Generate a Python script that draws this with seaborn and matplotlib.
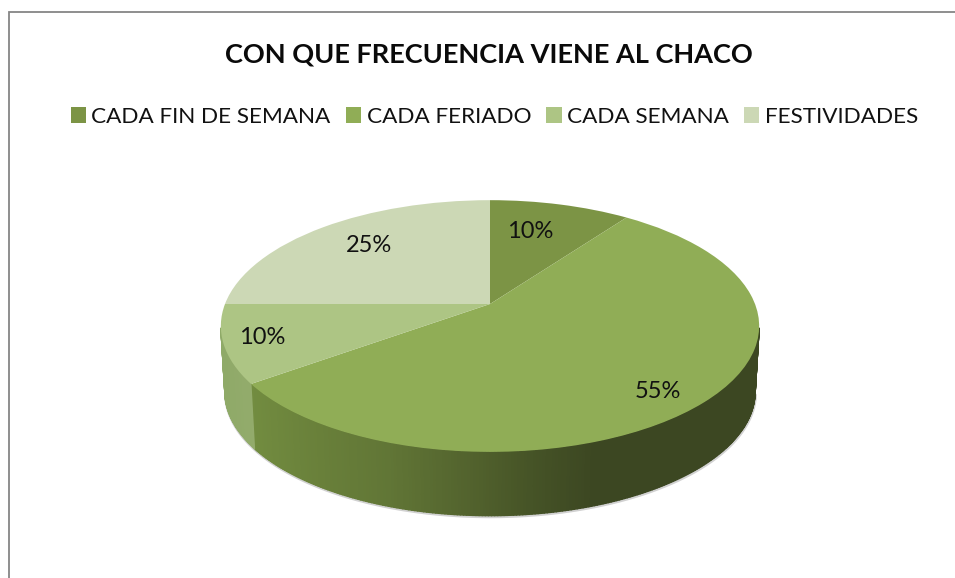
import numpy as np
import matplotlib
matplotlib.use("Agg")
import matplotlib.pyplot as plt
import seaborn as sns
from matplotlib.collections import PolyCollection
from matplotlib.transforms import Transform

categories = ["CADA FIN DE SEMANA", "CADA FERIADO", "CADA SEMANA", "FESTIVIDADES"]
values = [10, 55, 10, 25]
top_colors = ["#7c9445", "#90ad56", "#adc584", "#ccd8b5"]
title = "CON QUE FRECUENCIA VIENE AL CHACO"

# where the percentage labels sit, in pixels
label_pos = [(530, 232), (658, 391), (262, 338), (369, 246)]

sns.set_theme(style="white")
plt.rcParams["font.family"] = ["Lato", "DejaVu Sans"]


class TiltedDisc(Transform):
    """Unit circle to pixels, with the far side of the pie foreshortened."""
    input_dims = 2
    output_dims = 2
    is_separable = False
    has_inverse = False

    def __init__(self, cx=490, cy=304, a=265, b=122, k=0.175, scale=1.0, drop=0.0):
        super().__init__()
        self.cx, self.cy, self.a, self.b, self.k = cx, cy, a, b, k
        self.scale, self.drop = scale, drop

    def transform_non_affine(self, values):
        u, v = np.asarray(values, dtype=float).T
        d = 1 + self.k * v
        x = self.cx + self.scale * self.a * u / d
        y = self.cy - self.scale * self.b * v / d + self.drop
        return np.column_stack([x, y])


fig = plt.figure(figsize=(9.55, 5.78), dpi=100)
ax = fig.add_axes([0, 0, 1, 1])

wedges, _, autotexts = ax.pie(
    values, colors=top_colors, startangle=90, counterclock=False,
    autopct="%.0f%%", wedgeprops={"linewidth": 0},
    textprops={"fontsize": 17, "color": "#111111"},
)
ax.set_xlim(0, 955)
ax.set_ylim(578, 0)
ax.axis("off")

top = TiltedDisc()
for w in wedges:
    w.set_transform(top + ax.transData)
for t, pos in zip(autotexts, label_pos):
    t.set_position(pos)

# side wall of the pie, shaded left to right
rim = TiltedDisc(scale=0.985, drop=66)
dark_wall = sns.blend_palette(["#728c40", "#69803a", "#617636", "#55662f", "#475527", "#3c4722"],
                              as_cmap=True)
pale_wall = sns.blend_palette(["#8faa68", "#93ab6c"], as_cmap=True)
edges = np.cumsum(values) * 3.6  # clockwise from 12 o'clock
theta = np.radians(np.linspace(101, 259, 280))
quads, face = [], []
for t0, t1 in zip(theta[:-1], theta[1:]):
    ring = np.array([[np.sin(t0), np.cos(t0)], [np.sin(t1), np.cos(t1)]])
    hi, lo = top.transform(ring), rim.transform(ring)
    quads.append([hi[0], hi[1], lo[1], lo[0]])
    xpos = (hi[0][0] - 250) / 345
    if np.degrees(t0) >= edges[1]:
        face.append(pale_wall((hi[0][0] - 222) / 30))
    else:
        face.append(dark_wall(np.clip(xpos, 0, 1)))
ax.add_collection(PolyCollection(quads, facecolors=face, edgecolors=face, linewidths=1.0, zorder=0.6))

# soft shadow under the wall
ring = np.column_stack([np.sin(theta), np.cos(theta)])
low = rim.transform(ring)
ax.plot(low[:, 0] + 0.5, low[:, 1] + 1.2, color="#999999", lw=2, alpha=0.45, zorder=0.5)

# chart frame runs off the right and bottom of the picture
ax.plot([8.7, 8.7, 955], [578, 11.7, 11.7], color="#868686", lw=1.3, solid_joinstyle="miter")

ax.text(489, 54, title, ha="center", va="center", fontsize=19.5, fontweight="bold", color="#0a0a0a")

ax.legend(
    wedges, categories, ncol=4, loc="center", bbox_to_anchor=(494.5, 117),
    bbox_transform=ax.transData, frameon=False, fontsize=16.2,
    handlelength=0.67, handleheight=0.67, handletextpad=0.25, columnspacing=0.68,
    labelcolor="#111111", borderpad=0,
)

fig.savefig("out.png", dpi=100)
